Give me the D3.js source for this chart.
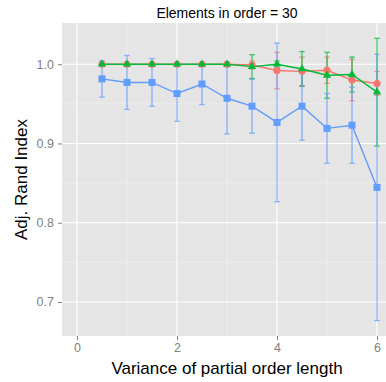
<!DOCTYPE html>
<html>
<head>
<meta charset="utf-8">
<script src="https://cdn.jsdelivr.net/npm/d3@7"></script>
<style>
  body { margin: 0; background: #fff; }
  text { font-family: "Liberation Sans", Arial, sans-serif; }
</style>
</head>
<body>
<div id="chart"></div>
<script>
// variance values on x
var variance = [0.5, 1, 1.5, 2, 2.5, 3, 3.5, 4, 4.5, 5, 5.5, 6];

// red series (circles)
var redMean = [1, 1, 1, 1, 1, 1, 0.999, 0.992, 0.991, 0.9924, 0.980, 0.9757];
var redSd   = [0, 0, 0, 0, 0, 0.003, 0.005, 0.023, 0.018, 0.0165, 0.026, 0.015];

// green series (triangles)
var greenMean = [1, 1, 1, 1, 1, 1, 0.997, 1.0, 0.994, 0.986, 0.987, 0.9647];
var greenSd   = [0, 0, 0, 0, 0, 0, 0.015, 0.004, 0.022, 0.029, 0.022, 0.068];

// blue series (squares)
var blueMean = [0.9815, 0.977, 0.977, 0.963, 0.975, 0.957, 0.947, 0.9265, 0.947, 0.919, 0.923, 0.8445];
var blueSd   = [0.023, 0.034, 0.030, 0.035, 0.026, 0.045, 0.034, 0.10, 0.043, 0.044, 0.048, 0.168];

var xTicks = [0, 2, 4, 6];
var yTicks = [0.7, 0.8, 0.9, 1.0];

var width = 386, height = 382;
// panel edges (window.top is reserved, so use other names)
var pLeft = 62, pRight = 392, pTop = 23, pBottom = 336;

var x = d3.scaleLinear().domain([-0.3, 6.3]).range([pLeft, pRight]);
var y = d3.scaleLinear().domain([0.657, 1.052]).range([pBottom, pTop]);

var svg = d3.select("#chart").append("svg")
  .attr("width", width)
  .attr("height", height);

// panel
svg.append("rect")
  .attr("x", pLeft).attr("y", pTop)
  .attr("width", pRight - pLeft).attr("height", pBottom - pTop)
  .style("fill", "#e5e5e5");

// minor grid
[1, 3, 5].forEach(function(v) {
  svg.append("line")
    .attr("x1", x(v)).attr("x2", x(v)).attr("y1", pTop).attr("y2", pBottom)
    .style("stroke", "#f2f2f2").style("stroke-width", 0.6);
});
[0.75, 0.85, 0.95].forEach(function(v) {
  svg.append("line")
    .attr("x1", pLeft).attr("x2", pRight).attr("y1", y(v)).attr("y2", y(v))
    .style("stroke", "#f2f2f2").style("stroke-width", 0.6);
});

// major grid
xTicks.forEach(function(v) {
  svg.append("line")
    .attr("x1", x(v)).attr("x2", x(v)).attr("y1", pTop).attr("y2", pBottom)
    .style("stroke", "#fff").style("stroke-width", 1.1);
});
yTicks.forEach(function(v) {
  svg.append("line")
    .attr("x1", pLeft).attr("x2", pRight).attr("y1", y(v)).attr("y2", y(v))
    .style("stroke", "#fff").style("stroke-width", 1.1);
});

// axes
var xAxis = svg.append("g")
  .attr("transform", "translate(0," + pBottom + ")")
  .call(d3.axisBottom(x).tickValues(xTicks).tickFormat(d3.format("d")).tickSize(4).tickPadding(3));
var yAxis = svg.append("g")
  .attr("transform", "translate(" + pLeft + ",0)")
  .call(d3.axisLeft(y).tickValues(yTicks).tickFormat(d3.format(".1f")).tickSize(4).tickPadding(4));
[xAxis, yAxis].forEach(function(a) {
  a.select(".domain").remove();
  a.selectAll("line").style("stroke", "#7f7f7f").style("stroke-width", 1);
  a.selectAll("text").style("fill", "#7f7f7f").style("font-size", "12.5px")
    .style("font-family", "'Liberation Sans', Arial, sans-serif");
});

var series = [
  { mean: redMean, sd: redSd, color: "#F8766D", shape: "circle" },
  { mean: greenMean, sd: greenSd, color: "#00BA38", shape: "triangle" },
  { mean: blueMean, sd: blueSd, color: "#619CFF", shape: "square" }
];

var plot = svg.append("g");

// error bars
series.forEach(function(s) {
  var g = plot.append("g").style("stroke", s.color).style("stroke-width", 1.3).style("opacity", 0.75);
  variance.forEach(function(v, i) {
    var lo = s.mean[i] - s.sd[i], hi = s.mean[i] + s.sd[i];
    g.append("line").attr("x1", x(v)).attr("x2", x(v)).attr("y1", y(lo)).attr("y2", y(hi));
    g.append("line").attr("x1", x(v) - 2.7).attr("x2", x(v) + 2.7).attr("y1", y(lo)).attr("y2", y(lo));
    g.append("line").attr("x1", x(v) - 2.7).attr("x2", x(v) + 2.7).attr("y1", y(hi)).attr("y2", y(hi));
  });
});

// lines
var line = d3.line()
  .x(function(d) { return x(d[0]); })
  .y(function(d) { return y(d[1]); });
series.forEach(function(s) {
  plot.append("path")
    .datum(variance.map(function(v, i) { return [v, s.mean[i]]; }))
    .attr("d", line)
    .style("fill", "none")
    .style("stroke", s.color)
    .style("stroke-width", 1.4);
});

// points
var symbols = {
  circle: d3.symbol().type(d3.symbolCircle).size(40),
  triangle: d3.symbol().type(d3.symbolTriangle).size(30),
  square: d3.symbol().type(d3.symbolSquare).size(49)
};
series.forEach(function(s) {
  plot.selectAll(null)
    .data(variance.map(function(v, i) { return [v, s.mean[i]]; }))
    .enter()
    .append("path")
    .attr("d", symbols[s.shape])
    .attr("transform", function(d) { return "translate(" + x(d[0]) + "," + y(d[1]) + ")"; })
    .style("fill", s.color);
});

// titles
svg.append("text")
  .attr("x", (pLeft + pRight) / 2)
  .attr("y", 18)
  .attr("text-anchor", "middle")
  .style("font-size", "14px")
  .text("Elements in order = 30");

svg.append("text")
  .attr("x", (pLeft + pRight) / 2)
  .attr("y", 374)
  .attr("text-anchor", "middle")
  .style("font-size", "17px")
  .text("Variance of partial order length");

svg.append("text")
  .attr("transform", "translate(27," + (pTop + pBottom) / 2 + ") rotate(-90)")
  .attr("text-anchor", "middle")
  .style("font-size", "17px")
  .text("Adj. Rand Index");
</script>
</body>
</html>
